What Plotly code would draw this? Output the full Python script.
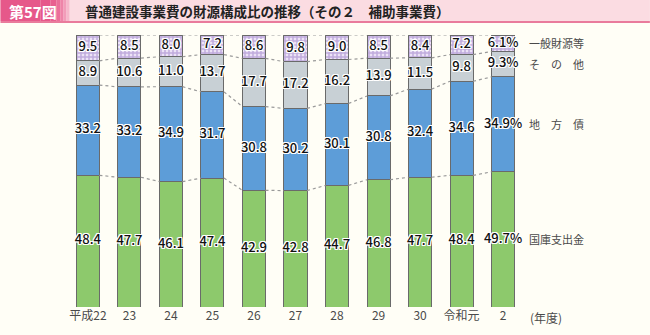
import plotly.graph_objects as go

# 財源構成比（補助事業費）, 単位: %
years = ["平成22", "23", "24", "25", "26", "27", "28", "29", "30", "令和元", "2"]
kokko = [48.4, 47.7, 46.1, 47.4, 42.9, 42.8, 44.7, 46.8, 47.7, 48.4, 49.7]      # 国庫支出金
chihousai = [33.2, 33.2, 34.9, 31.7, 30.8, 30.2, 30.1, 30.8, 32.4, 34.6, 34.9]  # 地方債
sonota = [8.9, 10.6, 11.0, 13.7, 17.7, 17.2, 16.2, 13.9, 11.5, 9.8, 9.3]         # その他
ippan = [9.5, 8.5, 8.0, 7.2, 8.6, 9.8, 9.0, 8.5, 8.4, 7.2, 6.1]                  # 一般財源等

series = [
    ("国庫支出金", kokko, "#8dc96c"),
    ("地方債", chihousai, "#5d9dd8"),
    ("その他", sonota, "#c8d0d5"),
    ("一般財源等", ippan, "#e6d8f0"),
]
SP = "\u2002\u2002"
side_labels = ["国庫支出金", f"地{SP}方{SP}債", f"そ{SP}の{SP}他", "一般財源等"]

W, H = 650, 335
ML, MR, MT, MB = 62.6, 122.0, 35.0, 28.0
BAR_W = 0.555
FONT = "Noto Sans CJK JP, Noto Sans, sans-serif"
BG = "#fffef6"

pw, ph = W - ML - MR, H - MT - MB


def px_x(p):
    return (p - ML) / pw


def px_y(p):
    return (H - MB - p) / ph


n = len(years)
xs = list(range(n))
fig = go.Figure()

# stacked bars
for name, vals, col in series:
    marker = dict(color=col, line=dict(color="#6a6a6a", width=1))
    if name == "一般財源等":
        marker["pattern"] = dict(shape="+", fgcolor="#9373c4", bgcolor="#ece2f6",
                                 size=4, solidity=0.6)
    fig.add_trace(go.Bar(x=xs, y=vals, name=name, width=BAR_W, marker=marker,
                         hoverinfo="skip", showlegend=False))

# cumulative boundaries and segment midpoints
cum = [[0.0] * n]
for _, vals, _ in series:
    cum.append([round(c + v, 4) for c, v in zip(cum[-1], vals)])

# dotted connectors between neighbouring bars
for level in cum[1:]:
    lx, ly = [], []
    for i in range(n - 1):
        lx += [i + BAR_W / 2, i + 1 - BAR_W / 2, None]
        ly += [level[i], level[i + 1], None]
    fig.add_trace(go.Scatter(x=lx, y=ly, mode="lines", hoverinfo="skip", showlegend=False,
                             line=dict(color="#9a9a9a", width=1.2, dash="dot")))

# value labels centred in each segment
halo = ("1px 0 0 white, -1px 0 0 white, 0 1px 0 white, 0 -1px 0 white, "
        "1px 1px 0 white, -1px -1px 0 white, 1px -1px 0 white, -1px 1px 0 white")
for k, (name, vals, _) in enumerate(series):
    mids = [(a + b) / 2 for a, b in zip(cum[k], cum[k + 1])]
    txt = [f"{v:.1f}" + ("%" if i == n - 1 else "") for i, v in enumerate(vals)]
    fig.add_trace(go.Scatter(x=xs, y=mids, mode="text", text=txt, hoverinfo="skip",
                             showlegend=False, cliponaxis=False,
                             textfont=dict(family=FONT, size=13, color="#111111",
                                           weight=500, shadow=halo)))

annotations = []
# series names to the right of the last bar
for k, lab in enumerate(side_labels):
    mid = (cum[k][-1] + cum[k + 1][-1]) / 2
    annotations.append(dict(x=px_x(527), xref="paper", y=mid, yref="y", text=lab,
                            showarrow=False, xanchor="left", yanchor="middle",
                            font=dict(family=FONT, size=11, color="#4a4a4a")))
annotations.append(dict(x=px_x(546), xref="paper", y=px_y(317), yref="paper", text="(年度)",
                        showarrow=False, xanchor="center", yanchor="middle",
                        font=dict(family=FONT, size=12, color="#4a4a4a")))

# heading band
shapes = [
    dict(type="rect", xref="paper", yref="paper", x0=px_x(0), x1=px_x(W), y0=px_y(21), y1=px_y(0),
         fillcolor="#fbdce2", line=dict(width=0), layer="below"),
    dict(type="rect", xref="paper", yref="paper", x0=px_x(0), x1=px_x(W), y0=px_y(23), y1=px_y(21),
         fillcolor="#e97b9c", line=dict(width=0), layer="below"),
]
grad = ["#e6588a", "#e6588a", "#e8608f", "#eb6f99", "#ee84a8", "#f29cb9", "#f6b7cb"]
edges = [0, 40, 50, 56, 60, 63, 66, 69]
for c, a, b in zip(grad, edges[:-1], edges[1:]):
    shapes.append(dict(type="rect", xref="paper", yref="paper", x0=px_x(a), x1=px_x(b),
                       y0=px_y(21), y1=px_y(0), fillcolor=c, line=dict(width=0), layer="below"))

annotations.append(dict(x=px_x(33), xref="paper", y=px_y(11), yref="paper", text="<b>第57図</b>",
                        showarrow=False, xanchor="center", yanchor="middle",
                        font=dict(family=FONT, size=15, color="white")))
annotations.append(dict(x=px_x(83), xref="paper", y=px_y(11), yref="paper",
                        text="普通建設事業費の財源構成比の推移（その２　補助事業費）",
                        showarrow=False, xanchor="left", yanchor="middle",
                        font=dict(family=FONT, size=13.5, color="#222222", weight=600)))

fig.update_layout(
    barmode="stack",
    width=W, height=H,
    margin=dict(l=ML, r=MR, t=MT, b=MB, pad=0),
    paper_bgcolor=BG, plot_bgcolor=BG,
    font=dict(family=FONT, size=12, color="#4a4a4a"),
    xaxis=dict(range=[-0.6, 10.6], tickmode="array", tickvals=xs, ticktext=years,
               showgrid=False, zeroline=False, showline=False, ticks="", ticklen=0,
               tickfont=dict(family=FONT, size=12, color="#4a4a4a")),
    yaxis=dict(range=[0, 100], visible=False, showgrid=False, zeroline=False),
    shapes=shapes,
    annotations=annotations,
)

fig.write_html("out.html")
